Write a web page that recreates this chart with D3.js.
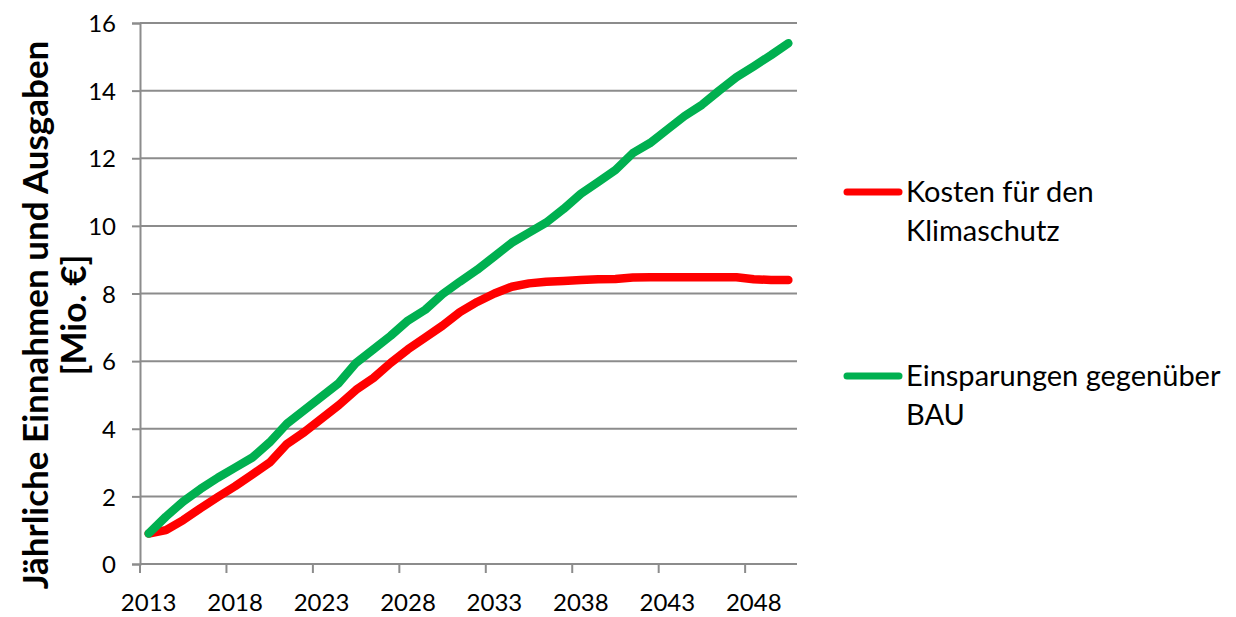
<!DOCTYPE html>
<html>
<head>
<meta charset="utf-8">
<script src="https://cdn.jsdelivr.net/npm/d3@7/dist/d3.min.js"></script>
<style>
  html, body { margin: 0; padding: 0; background: #fff; }
  svg { display: block; font-family: Lato, "Open Sans", sans-serif; }
</style>
</head>
<body>
<svg id="chart" width="1236" height="617"></svg>
<script>
// ---- data ----
const years = d3.range(2013, 2051);
const kosten = [0.9, 1.0, 1.3, 1.65, 1.98, 2.3, 2.65, 3.0, 3.55, 3.9,
  4.3, 4.7, 5.15, 5.5, 5.95, 6.35, 6.7, 7.05, 7.45, 7.75,
  8.0, 8.2, 8.3, 8.35, 8.37, 8.4, 8.42, 8.43, 8.47, 8.48,
  8.48, 8.48, 8.48, 8.48, 8.48, 8.42, 8.4, 8.4];
const einsparungen = [0.9, 1.4, 1.85, 2.22, 2.55, 2.85, 3.15, 3.6, 4.15, 4.55,
  4.95, 5.35, 5.95, 6.35, 6.75, 7.2, 7.52, 7.98, 8.35, 8.7,
  9.1, 9.5, 9.8, 10.1, 10.5, 10.95, 11.3, 11.65, 12.15, 12.45,
  12.85, 13.25, 13.58, 14.0, 14.4, 14.72, 15.05, 15.4];
const xTickYears = [2013, 2018, 2023, 2028, 2033, 2038, 2043, 2048];
const yTicks = [0, 2, 4, 6, 8, 10, 12, 14, 16];
const seriesNames = ["Kosten für den|Klimaschutz", "Einsparungen gegenüber|BAU"];
const seriesColors = ["#FF0000", "#00B050"];
const yTitle = ["Jährliche Einnahmen und Ausgaben", "[Mio. €]"];

// ---- layout ----
const svg = d3.select("#chart");
const plot = { left: 140, right: 797, top: 23, bottom: 564 };
const x = d3.scaleBand().domain(years).range([plot.left, plot.right]).padding(0);
const y = d3.scaleLinear().domain([0, 16]).range([plot.bottom, plot.top]);
const cx = yr => x(yr) + x.bandwidth() / 2;
const gridColor = "#8c8c8c";

// gridlines
svg.append("g").selectAll("line").data(yTicks.filter(d => d > 0)).join("line")
  .attr("x1", plot.left).attr("x2", plot.right)
  .attr("y1", d => y(d)).attr("y2", d => y(d))
  .attr("stroke", gridColor).attr("stroke-width", 2);

// y axis
const yAxis = d3.axisLeft(y).tickValues(yTicks).tickSize(8).tickPadding(16);
const gy = svg.append("g").attr("transform", `translate(${plot.left},0)`).call(yAxis);
gy.select(".domain").attr("stroke", gridColor).attr("stroke-width", 2);
gy.selectAll(".tick line").attr("stroke", gridColor).attr("stroke-width", 2);
gy.selectAll(".tick text").attr("font-family", "Lato").attr("font-size", 24).attr("fill", "#000").attr("dy", "0.36em");

// x axis
const gx = svg.append("g").attr("transform", `translate(0,${plot.bottom})`);
gx.append("line").attr("x1", plot.left).attr("x2", plot.right)
  .attr("stroke", gridColor).attr("stroke-width", 2);
gx.selectAll(".xt").data(xTickYears).join("line").attr("class", "xt")
  .attr("x1", d => x(d)).attr("x2", d => x(d)).attr("y1", 0).attr("y2", 9)
  .attr("stroke", gridColor).attr("stroke-width", 2);
gx.selectAll(".xl").data(xTickYears).join("text").attr("class", "xl")
  .attr("x", d => cx(d)).attr("y", 47).attr("text-anchor", "middle")
  .attr("font-size", 24).attr("fill", "#000").text(d => d);

// lines
const series = [kosten, einsparungen];
const line = d3.line().x((d, i) => cx(years[i])).y(d => y(d));
series.forEach((s, k) => {
  svg.append("path").datum(s).attr("d", line)
    .attr("fill", "none").attr("stroke", seriesColors[k]).attr("stroke-width", 8.5)
    .attr("stroke-linecap", "round").attr("stroke-linejoin", "round");
});

// legend
const legendY = [192, 376];
seriesNames.forEach((name, k) => {
  const g = svg.append("g");
  g.append("line").attr("x1", 847).attr("x2", 899).attr("y1", legendY[k]).attr("y2", legendY[k])
    .attr("stroke", seriesColors[k]).attr("stroke-width", 7).attr("stroke-linecap", "round");
  name.split("|").forEach((t, j) => {
    g.append("text").attr("x", 906).attr("y", legendY[k] + 10 + j * 39)
      .attr("font-size", 29).attr("fill", "#000").text(t);
  });
});

// y title
const tg = svg.append("g").attr("transform", "translate(0,315) rotate(-90)");
yTitle.forEach((t, j) => {
  tg.append("text").attr("x", 0).attr("y", 48 + j * 38).attr("text-anchor", "middle")
    .attr("font-size", 35).attr("font-weight", "bold").attr("fill", "#000").text(t);
});
</script>
</body>
</html>
